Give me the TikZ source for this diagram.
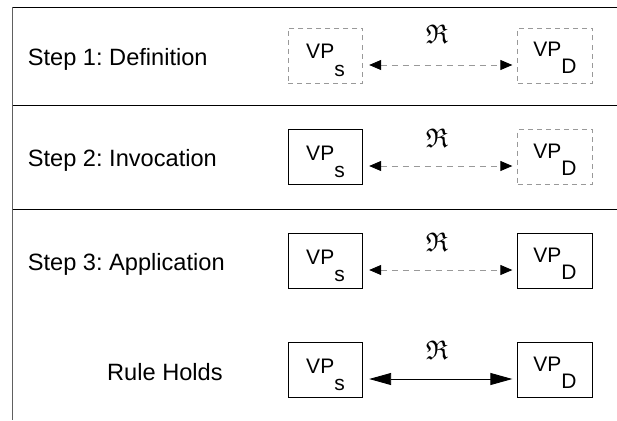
\documentclass[tikz,border=0pt]{standalone}
\usepackage{amssymb}
\usepackage{fontspec}
\setmainfont{Liberation Sans}
\usetikzlibrary{arrows.meta}
\definecolor{dgray}{HTML}{999999}
\definecolor{lgray}{HTML}{606060}
\frenchspacing
\newcommand{\vps}{VP\raisebox{-17.4pt}{s}\hspace{5pt}}
\newcommand{\vpd}{VP\raisebox{-16.7pt}{D}\hspace{-2pt}}
\begin{document}
\begin{tikzpicture}[x=1pt,y=-1pt,
  vp/.style={minimum width=74.5pt,minimum height=55pt,inner sep=0pt,
    font=\fontsize{21}{24}\selectfont,line width=0.8pt},
  vs/.style={text height=21pt,text depth=14.4pt},
  vd/.style={text height=19pt,text depth=16.4pt},
  solidbox/.style={vp,draw=black},
  dashbox/.style={vp,draw=dgray,dash pattern=on 5pt off 4pt},
  lbl/.style={anchor=base west,inner sep=0pt,font=\fontsize{23.6}{28}\selectfont},
  rel/.style={inner sep=0pt,font=\fontsize{27}{30}\selectfont},
  rule/.style={line width=0.8pt},
  darr/.style={draw=dgray,dash pattern=on 6pt off 5pt,line width=0.8pt,
    {Triangle[length=12pt,width=10pt,black]}-{Triangle[length=12pt,width=10pt,black]},
    shorten <=6pt,shorten >=5pt},
  sarr/.style={draw=black,line width=0.9pt,
    {Triangle[length=22pt,width=12pt]}-{Triangle[length=22pt,width=12pt]},
    shorten <=6pt,shorten >=5pt}
]
\useasboundingbox (0,0) rectangle (617,420);
% frame lines
\coordinate (tl) at (12.5,7);
\coordinate (bl) at (12.5,420);
\coordinate (tr) at (617,7);
\coordinate (m1l) at (12.5,105);
\coordinate (m1r) at (617,105);
\coordinate (m2l) at (12.5,209);
\coordinate (m2r) at (617,209);
\draw[lgray,line width=1.3pt] (tl) -- (bl);
\draw[rule] (tl) -- (tr);
\draw[rule] (m1l) -- (m1r);
\draw[rule] (m2l) -- (m2r);

% row 1
\node[lbl] (l1) at (27.7,65.5) {Step 1: Definition};
\node[dashbox,vs] (s1) at (325.5,55.5) {\vps};
\node[dashbox,vd] (d1) at (555,55.5) {\vpd};
\draw[darr] ([yshift=-9.5pt]s1.east) -- ([yshift=-9.5pt]d1.west);
\node[rel] (r1) at (437,34) {$\mathfrak{R}$};

% row 2
\node[lbl] (l2) at (27.7,166.5) {Step 2: Invocation};
\node[solidbox,vs] (s2) at (325.5,157) {\vps};
\node[dashbox,vd] (d2) at (555,157) {\vpd};
\draw[darr] ([yshift=-9pt]s2.east) -- ([yshift=-9pt]d2.west);
\node[rel] (r2) at (437,138) {$\mathfrak{R}$};

% row 3
\node[lbl] (l3) at (27.7,270.5) {Step 3: Application};
\node[solidbox,vs] (s3) at (325.5,261) {\vps};
\node[solidbox,vd] (d3) at (555,261) {\vpd};
\draw[darr] ([yshift=-9pt]s3.east) -- ([yshift=-9pt]d3.west);
\node[rel] (r3) at (437,242) {$\mathfrak{R}$};

% row 4
\node[lbl] (l4) at (107,380.5) {Rule Holds};
\node[solidbox,vs] (s4) at (325.5,370) {\vps};
\node[solidbox,vd] (d4) at (555,370) {\vpd};
\draw[sarr] ([yshift=-9pt]s4.east) -- ([yshift=-9pt]d4.west);
\node[rel] (r4) at (437,350) {$\mathfrak{R}$};
\end{tikzpicture}
\end{document}
